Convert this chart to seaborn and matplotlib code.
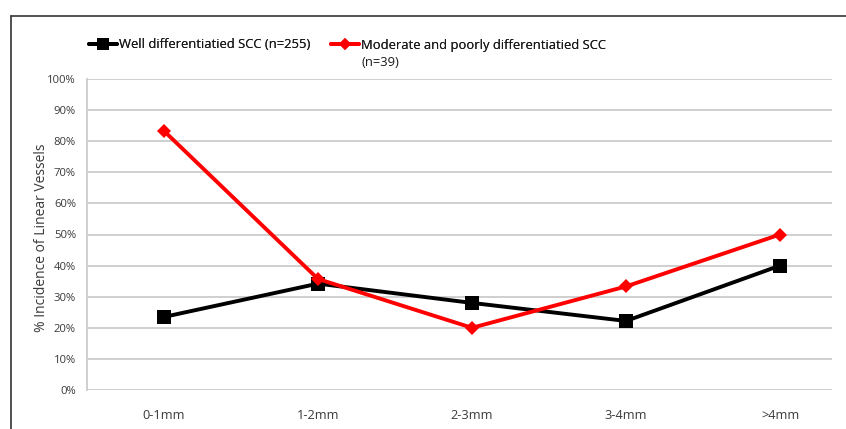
import matplotlib
matplotlib.use("Agg")
import matplotlib.pyplot as plt
import seaborn as sns
import pandas as pd
import numpy as np
from matplotlib.lines import Line2D
from matplotlib.ticker import PercentFormatter

categories = ["0-1mm", "1-2mm", "2-3mm", "3-4mm", ">4mm"]
well = [23.5, 34.2, 28.0, 22.2, 40.0]
moderate = [83.3, 35.7, 20.0, 33.3, 50.0]
series_names = ["Well differentiatied SCC (n=255)", "Moderate and poorly differentiatied SCC"]
extra_label = "(n=39)"
y_label = "% Incidence of Linear Vessels"

sns.set_theme(style="white")
plt.rcParams["font.family"] = ["Open Sans", "DejaVu Sans"]

df = pd.DataFrame({
    "pos": list(range(len(categories))) * 2,
    "value": well + moderate,
    "series": [series_names[0]] * len(categories) + [series_names[1]] * len(categories),
})

W, H = 846, 429
fig = plt.figure(figsize=(W / 100, H / 100), dpi=100)
ax = fig.add_axes([87 / W, 1 - 390 / H, (832 - 87) / W, (390 - 79) / H])

colors = {series_names[0]: "#000000", series_names[1]: "#ff0000"}
msize = {series_names[0]: 9.5, series_names[1]: 7.5}
sns.lineplot(data=df, x="pos", y="value", hue="series", style="series",
             palette=colors, markers={series_names[0]: "s", series_names[1]: "D"},
             dashes=False, linewidth=2.8, markeredgewidth=0,
             legend=False, ax=ax, zorder=3)
for line in ax.get_lines():
    c = matplotlib.colors.to_hex(line.get_color())
    line.set_markersize(7.5 if c == "#ff0000" else 9.5)

ax.set_xlim(-0.5, (832 - 164) / 154)
ax.set_ylim(0, 100)
ax.set_yticks(np.arange(0, 101, 10))
ax.yaxis.set_major_formatter(PercentFormatter(decimals=0))
ax.set_xticks(range(len(categories)))
ax.set_xticklabels(categories)
ax.grid(axis="y", color="#cccccc", linewidth=1.3)
ax.grid(axis="x", visible=False)
for s in ["top", "right", "bottom"]:
    ax.spines[s].set_visible(False)
ax.spines["left"].set_color("#cccccc")
ax.spines["left"].set_linewidth(1.3)
ax.tick_params(axis="y", length=4, color="#cccccc", width=1.3, pad=4, labelsize=8.1, labelcolor="#3a3a3a")
ax.tick_params(axis="x", length=0, pad=14, labelsize=9.2, labelcolor="#3a3a3a")
ax.set_xlabel("")
ax.set_ylabel(y_label, fontsize=10, color="#3a3a3a")
ax.yaxis.set_label_coords((49 - 87) / 745, (390 - 238) / 311)

handles = [
    Line2D([], [], color="#000000", marker="s", markersize=8, linewidth=2.8, markeredgewidth=0),
    Line2D([], [], color="#ff0000", marker="D", markersize=6.5, linewidth=2.8, markeredgewidth=0),
]
legs = []
for h, name, x0 in zip(handles, series_names, [89, 331]):
    leg = fig.legend([h], [name], loc="center left", bbox_to_anchor=(x0 / W, 1 - 45 / H),
                     frameon=False, fontsize=9.4, handlelength=2.15, handletextpad=0.15,
                     borderaxespad=0, borderpad=0)
    for t in leg.get_texts():
        t.set_color("#1a1a1a")
    legs.append(leg)
    fig.add_artist(leg)

fig.canvas.draw()
bb = legs[1].get_texts()[0].get_window_extent()
fig.text(bb.x0 / W, 1 - 63 / H, extra_label, fontsize=9.4, color="#1a1a1a",
         ha="left", va="center")

# figure frame
fig.add_artist(Line2D([11 / W, 1], [1 - 16 / H, 1 - 16 / H], color="#333333", linewidth=1.2,
                      transform=fig.transFigure))
fig.add_artist(Line2D([11 / W, 11 / W], [0, 1 - 16 / H], color="#333333", linewidth=1.2,
                      transform=fig.transFigure))

fig.savefig("out.png", dpi=100)
